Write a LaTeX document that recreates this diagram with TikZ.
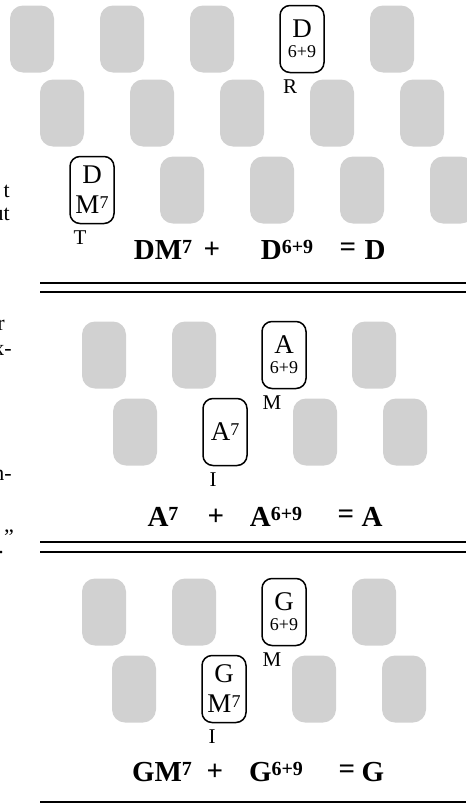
\documentclass[tikz,border=0pt]{standalone}
\usepackage{fontspec}
\setmainfont{Liberation Serif}
\usetikzlibrary{positioning}
\newcommand{\chup}[2]{\raisebox{.2em}{\fontsize{#1}{#1}\selectfont #2}}

\begin{document}
\begin{tikzpicture}[x=1pt, y=-1pt,
				key/.style={rectangle, rounded corners=13pt, fill=black!18, inner sep=0pt,
					minimum width=44pt, minimum height=67pt},
				chord/.style={rectangle, rounded corners=10pt, draw=black, fill=white, line width=1.5pt,
					inner sep=0pt, minimum width=44pt, minimum height=67pt, align=center,
					font=\fontsize{27}{30}\selectfont},
				six/.style={chord, font=\fontsize{27}{20}\selectfont},
				fing/.style={anchor=north, font=\fontsize{21}{21}\selectfont, inner sep=0pt},
				sum/.style={font=\bfseries\fontsize{29}{29}\selectfont, inner sep=0pt},
				side/.style={anchor=east, font=\fontsize{22}{22}\selectfont, inner sep=0pt},
				rule/.style={line width=1.3pt}
				]
				\useasboundingbox (0,0) rectangle (466,803);

				% D: first panel
				\foreach \x in {32,122,212,392} \node[key] (da\x) at (\x,39) {};
				\foreach \x in {62,152,242,332,422} \node[key] (db\x) at (\x,113) {};
				\foreach \x in {182,272,362,452} \node[key] (dc\x) at (\x,190) {};
				\node[six] (dsix) at (302,39) {D\\{\fontsize{18}{20}\selectfont 6+9}};
				\node[chord] (dmaj) at (92,190) {D\\M\chup{18}{7}};
				\node[fing] (rlab) at ([shift={(-12,6)}]dsix.south) {R};
				\node[fing] (tlab) at ([shift={(-12,6)}]dmaj.south) {T};

				\node[sum] (dsum1) at (163,250) {DM\chup{20}{7}};
				\node[sum] (dplus) at (212,250) {+};
				\node[sum] (dsum2) at (287,250) {D\chup{20}{6+9}};
				\node[sum] (deq) at (348,250) {=};
				\node[sum] (dres) at (375,250) {D};

				\draw[rule] (40,283) -- (466,283);
				\draw[rule] (40,292) -- (466,292);

				% A: second panel
				\foreach \x in {104,194,374} \node[key] (aa\x) at (\x,355) {};
				\foreach \x in {135,315,405} \node[key] (ab\x) at (\x,432) {};
				\node[six] (asix) at (284,355) {A\\{\fontsize{18}{20}\selectfont 6+9}};
				\node[chord] (aseven) at (225,432) {A\chup{18}{7}};
				\node[fing] (mlab) at ([shift={(-12,6)}]asix.south) {M};
				\node[fing] (ilab) at ([shift={(-12,6)}]aseven.south) {I};

				\node[sum] (asum1) at (163,517) {A\chup{20}{7}};
				\node[sum] (aplus) at (216,517) {+};
				\node[sum] (asum2) at (276,517) {A\chup{20}{6+9}};
				\node[sum] (aeq) at (346,517) {=};
				\node[sum] (ares) at (372,517) {A};

				\draw[rule] (40,542) -- (466,542);
				\draw[rule] (40,552) -- (466,552);

				% G: third panel
				\foreach \x in {104,194,374} \node[key] (ga\x) at (\x,612) {};
				\foreach \x in {134,314,404} \node[key] (gb\x) at (\x,689) {};
				\node[six] (gsix) at (284,612) {G\\{\fontsize{18}{20}\selectfont 6+9}};
				\node[chord] (gmaj) at (224,689) {G\\M\chup{18}{7}};
				\node[fing] (mlab2) at ([shift={(-12,6)}]gsix.south) {M};
				\node[fing] (ilab2) at ([shift={(-12,6)}]gmaj.south) {I};

				\node[sum] (gsum1) at (162,772) {GM\chup{20}{7}};
				\node[sum] (gplus) at (215,772) {+};
				\node[sum] (gsum2) at (276,772) {G\chup{20}{6+9}};
				\node[sum] (geq) at (347,772) {=};
				\node[sum] (gres) at (373,772) {G};

				\draw[rule] (40,802) -- (466,802);

				% cut-off words of the next column
				\node[side] (s1) at (10,191) {t};
				\node[side] (s2) at (10,214) {ut};
				\node[side] (s3) at (5,325) {r};
				\node[side] (s4) at (12,350) {x-};
				\node[side] (s5) at (12,475) {n-};
				\node[side] (s6) at (14,537) {”};
				\node[side] (s7) at (4,553) {.};
			\end{tikzpicture}
\end{document}
